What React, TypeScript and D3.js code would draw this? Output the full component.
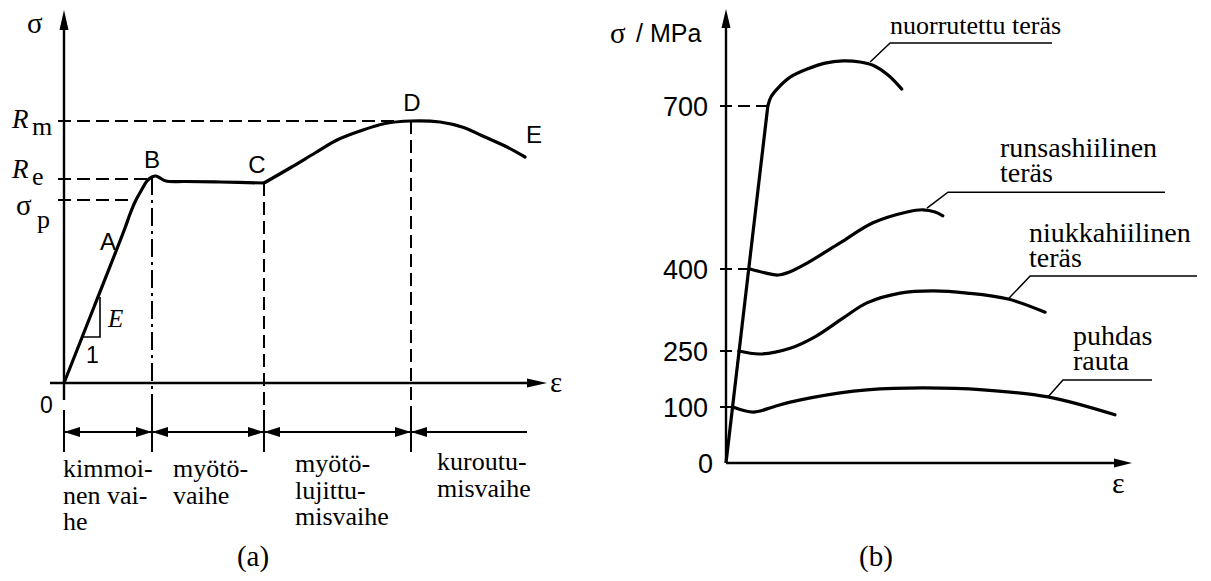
import React from "react";
import * as d3 from "d3";

// ---------- Panel (a): schematic stress-strain curve ----------
// (strain units, stress units) – schematic values
const curveA_elasticYield: [number, number][] = [
  [0, 0], [30, 76], [61, 155], [66, 169], [71, 181], [77, 192], [83, 202],
  [88, 206], [92, 207], [96, 205], [102, 202], [121, 201.5], [156, 201], [200, 200],
];
const curveA_hardening: [number, number][] = [
  [200, 200], [226, 215], [251, 230], [273, 243], [296, 252], [321, 259.5],
  [347, 262], [376, 261], [398, 256], [421, 246], [441, 237], [461, 226],
];
const levelValuesA = [262, 204, 183];
const levelEndsA = [347, 88, 69];
const pointNamesA = ["A", "B", "C", "D", "E"];
const phaseTicksA = [0, 88, 200, 347];
const phaseEndA = 463;
const phaseLabelsA = [
  ["kimmoi-", "nen vai-", "he"],
  ["myötö-", "vaihe"],
  ["myötö-", "lujittu-", "misvaihe"],
  ["kuroutu-", "misvaihe"],
];

// ---------- Panel (b): steels ----------
const tickValuesB = [0, 100, 250, 400, 700];
const tickLabelsB = ["0", "100", "250", "400", "700"];
const elasticB: [number, number][] = [[0, 0], [10.3, 700]];
const nuorrutettu: [number, number][] = [
  [10.3, 700], [11.1, 717], [12.8, 733], [15.8, 753], [20.0, 768], [24.4, 779],
  [28.8, 783], [33.0, 781], [36.2, 775], [39.9, 757], [43.3, 731],
];
const runsashiilinen: [number, number][] = [
  [5.9, 400], [9.6, 393], [12.8, 389], [15.8, 395], [20.0, 411], [28.1, 448],
  [36.2, 485], [44.6, 505], [48.5, 509], [51.5, 505], [53.4, 498],
];
const niukkahiilinen: [number, number][] = [
  [3.2, 250], [8.4, 242], [15.8, 255], [21.9, 276], [28.8, 310], [34.7, 338],
  [42.9, 356], [51.0, 360], [59.4, 356], [69.5, 345], [78.6, 321],
];
const puhdasRauta: [number, number][] = [
  [1.7, 100], [6.7, 91], [11.6, 100], [15.8, 113], [28.1, 138], [34.7, 146],
  [48.5, 151], [63.3, 146], [79.3, 127], [95.8, 86],
];
const seriesNamesB = [
  ["nuorrutettu teräs"],
  ["runsashiilinen", "teräs"],
  ["niukkahiilinen", "teräs"],
  ["puhdas", "rauta"],
];
// leader anchor points on the curves (strain, MPa)
const leaderAnchorsB: [number, number][] = [[35.5, 781], [49.5, 512], [69.5, 345], [79.3, 127]];

const SERIF = "'Liberation Serif', 'Times New Roman', serif";
const SANS = "'Liberation Sans', Arial, sans-serif";
const NARROW = "'Liberation Sans Narrow', 'Liberation Sans', Arial, sans-serif";

export default function App() {
  const xA = d3.scaleLinear().domain([0, 481]).range([64, 545]);
  const yA = d3.scaleLinear().domain([0, 373]).range([383, 10]);
  const lineA = d3
    .line<[number, number]>()
    .x((d) => xA(d[0]))
    .y((d) => yA(d[1]))
    .curve(d3.curveCatmullRom.alpha(0.5));

  const xB = d3.scaleLinear().domain([0, 100]).range([726, 1132]);
  const yB = d3.scaleLinear().domain([0, 100, 250, 400, 700]).range([463, 407, 351, 269, 106]);
  const lineB = d3
    .line<[number, number]>()
    .x((d) => xB(d[0]))
    .y((d) => yB(d[1]))
    .curve(d3.curveCatmullRom.alpha(0.5));
  const lineStraight = d3
    .line<[number, number]>()
    .x((d) => xB(d[0]))
    .y((d) => yB(d[1]));

  const stroke = "#000";
  const axisW = 2.4;
  const curveW = 3.2;

  const ox = xA(0);
  const oy = yA(0);
  const dimY = 432;

  const ptsA: [number, number][] = [
    [69, 183], [88, 206], [200, 200], [347, 262], [461, 226],
  ];
  const ptLabelPos = [
    [-25, 50], [0, -9], [-7, -10], [1, -10], [9, -14],
  ];

  const curvesB = [nuorrutettu, runsashiilinen, niukkahiilinen, puhdasRauta];
  const leaderGeom = [
    { dx: 20, dy: -19, end: 1052, lx: 890, ly: [34], fs: 26 },
    { dx: 21, dy: -16, end: 1165, lx: 1000, ly: [157, 182], fs: 28 },
    { dx: 22, dy: -23, end: 1197, lx: 1029, ly: [242, 267], fs: 28 },
    { dx: 15, dy: -17, end: 1152, lx: 1073, ly: [345, 370], fs: 28 },
  ];
  const startValsB = [700, 400, 250, 100];
  const startEpsB = [nuorrutettu[0][0], runsashiilinen[0][0], niukkahiilinen[0][0], puhdasRauta[0][0]];

  const arrow = (x: number, y: number, dir: "l" | "r" | "u", len = 16, hw = 5) => {
    if (dir === "l") return `${x},${y} ${x + len},${y - hw} ${x + len},${y + hw}`;
    if (dir === "r") return `${x},${y} ${x - len},${y - hw} ${x - len},${y + hw}`;
    return `${x},${y} ${x - hw},${y + len} ${x + hw},${y + len}`;
  };

  return (
    <svg width={1211} height={581} style={{ position: "absolute", left: 0, top: 0, background: "#fff" }}>
      <rect x={0} y={0} width={1211} height={581} fill="#fff" />
      {/* ======== Panel (a) ======== */}
      <line x1={ox} y1={28} x2={ox} y2={400} stroke={stroke} strokeWidth={axisW} />
      <polygon points={arrow(ox, 10, "u", 20, 4.5)} fill={stroke} />
      <line x1={50} y1={oy} x2={530} y2={oy} stroke={stroke} strokeWidth={axisW} />
      <polygon points={arrow(547, oy, "r", 20, 4.5)} fill={stroke} />
      <text x={27} y={33} fontFamily={SERIF} fontSize={29}>σ</text>
      <text x={550} y={392} fontFamily={SERIF} fontSize={29}>ε</text>
      <text x={40} y={413} fontFamily={NARROW} fontSize={23}>0</text>

      {levelValuesA.map((v, i) => (
        <line key={"lv" + i} x1={ox - 6} y1={yA(v)} x2={xA(levelEndsA[i])} y2={yA(v)}
          stroke={stroke} strokeWidth={2} strokeDasharray="13,6" />
      ))}
      <text x={12} y={128} fontFamily={SERIF} fontSize={27} fontStyle="italic">R</text>
      <text x={32} y={135} fontFamily={SERIF} fontSize={26}>m</text>
      <text x={12} y={178} fontFamily={SERIF} fontSize={27} fontStyle="italic">R</text>
      <text x={32} y={185} fontFamily={SERIF} fontSize={26}>e</text>
      <text x={16} y={215} fontFamily={SERIF} fontSize={29}>σ</text>
      <text x={37} y={228} fontFamily={SERIF} fontSize={26}>p</text>

      <line x1={xA(88)} y1={yA(206)} x2={xA(88)} y2={410} stroke={stroke} strokeWidth={2} strokeDasharray="18,5,3,5" />
      <line x1={xA(200)} y1={yA(200)} x2={xA(200)} y2={410} stroke={stroke} strokeWidth={2} strokeDasharray="13,6" />
      <line x1={xA(347)} y1={yA(262)} x2={xA(347)} y2={410} stroke={stroke} strokeWidth={2} strokeDasharray="13,6" />

      <path d={lineA(curveA_elasticYield) || ""} fill="none" stroke={stroke} strokeWidth={curveW} strokeLinejoin="round" />
      <path d={lineA(curveA_hardening) || ""} fill="none" stroke={stroke} strokeWidth={curveW} strokeLinecap="round" />

      <polyline points={`${xA(19)},${yA(46)} ${xA(36)},${yA(46)} ${xA(36)},${yA(86)}`} fill="none" stroke={stroke} strokeWidth={1.6} />
      <text x={108} y={327} fontFamily={SERIF} fontSize={25} fontStyle="italic">E</text>
      <text x={86} y={363} fontFamily={NARROW} fontSize={23}>1</text>

      {ptsA.map((p, i) => (
        <text key={"pl" + i} x={xA(p[0]) + ptLabelPos[i][0]} y={yA(p[1]) + ptLabelPos[i][1]}
          fontFamily={SANS} fontSize={24} textAnchor="middle">{pointNamesA[i]}</text>
      ))}

      <line x1={ox} y1={dimY} x2={xA(phaseEndA)} y2={dimY} stroke={stroke} strokeWidth={2} />
      {phaseTicksA.map((t, i) => (
        <line key={"pt" + i} x1={xA(t)} y1={410} x2={xA(t)} y2={452} stroke={stroke} strokeWidth={2} />
      ))}
      {phaseTicksA.map((t, i) => {
        const next = phaseTicksA[i + 1];
        return (
          <g key={"pa" + i}>
            <polygon points={arrow(xA(t), dimY, "l")} fill={stroke} />
            {next !== undefined && <polygon points={arrow(xA(next), dimY, "r")} fill={stroke} />}
          </g>
        );
      })}
      {phaseLabelsA.map((lines, i) => {
        const xs = [63, 173, 295, 437][i];
        const y0 = [477, 477, 472, 470][i];
        return (
          <text key={"ph" + i} fontFamily={SERIF} fontSize={26}>
            {lines.map((l, j) => (
              <tspan key={j} x={xs} y={y0 + j * 26.5}>{l}</tspan>
            ))}
          </text>
        );
      })}
      <text x={253} y={566} fontFamily={SERIF} fontSize={29} textAnchor="middle">(a)</text>

      {/* ======== Panel (b) ======== */}
      <line x1={xB(0)} y1={27} x2={xB(0)} y2={yB(0)} stroke={stroke} strokeWidth={axisW} />
      <polygon points={arrow(xB(0), 9, "u", 19, 4.5)} fill={stroke} />
      <line x1={xB(0)} y1={yB(0)} x2={1116} y2={yB(0)} stroke={stroke} strokeWidth={axisW} />
      <polygon points={arrow(1132, yB(0), "r", 18, 4.5)} fill={stroke} />
      <text x={610} y={43} fontFamily={SERIF} fontSize={29}>σ</text>
      <text x={636} y={42} fontFamily={SANS} fontSize={25}>/ MPa</text>
      <text x={1112} y={493} fontFamily={SERIF} fontSize={30}>ε</text>

      {tickValuesB.map((v, i) => (
        <text key={"tb" + i} x={v === 0 ? 713 : 708} y={yB(v) + 10} fontFamily={NARROW} fontSize={27} textAnchor="end">
          {tickLabelsB[i]}
        </text>
      ))}
      {startValsB.map((v, i) =>
        v === 100 ? (
          <line key={"dl" + i} x1={720} y1={yB(v)} x2={xB(startEpsB[i])} y2={yB(v)} stroke={stroke} strokeWidth={2} />
        ) : (
          <line key={"dl" + i} x1={720} y1={yB(v)} x2={xB(startEpsB[i])} y2={yB(v)} stroke={stroke} strokeWidth={2} strokeDasharray="12,6" />
        )
      )}

      <path d={lineStraight(elasticB) || ""} fill="none" stroke={stroke} strokeWidth={curveW} />
      {curvesB.map((c, i) => (
        <path key={"cb" + i} d={lineB(c) || ""} fill="none" stroke={stroke} strokeWidth={curveW} strokeLinecap="round" />
      ))}

      {leaderAnchorsB.map((a, i) => {
        const g = leaderGeom[i];
        const ax = xB(a[0]);
        const ay = yB(a[1]);
        return (
          <g key={"ld" + i}>
            <polyline points={`${ax},${ay} ${ax + g.dx},${ay + g.dy} ${g.end},${ay + g.dy}`} fill="none" stroke={stroke} strokeWidth={1.5} />
            <text fontFamily={SERIF} fontSize={g.fs}>
              {seriesNamesB[i].map((l, j) => (
                <tspan key={j} x={g.lx} y={g.ly[j]}>{l}</tspan>
              ))}
            </text>
          </g>
        );
      })}
      <text x={876} y={566} fontFamily={SERIF} fontSize={29} textAnchor="middle">(b)</text>
    </svg>
  );
}
